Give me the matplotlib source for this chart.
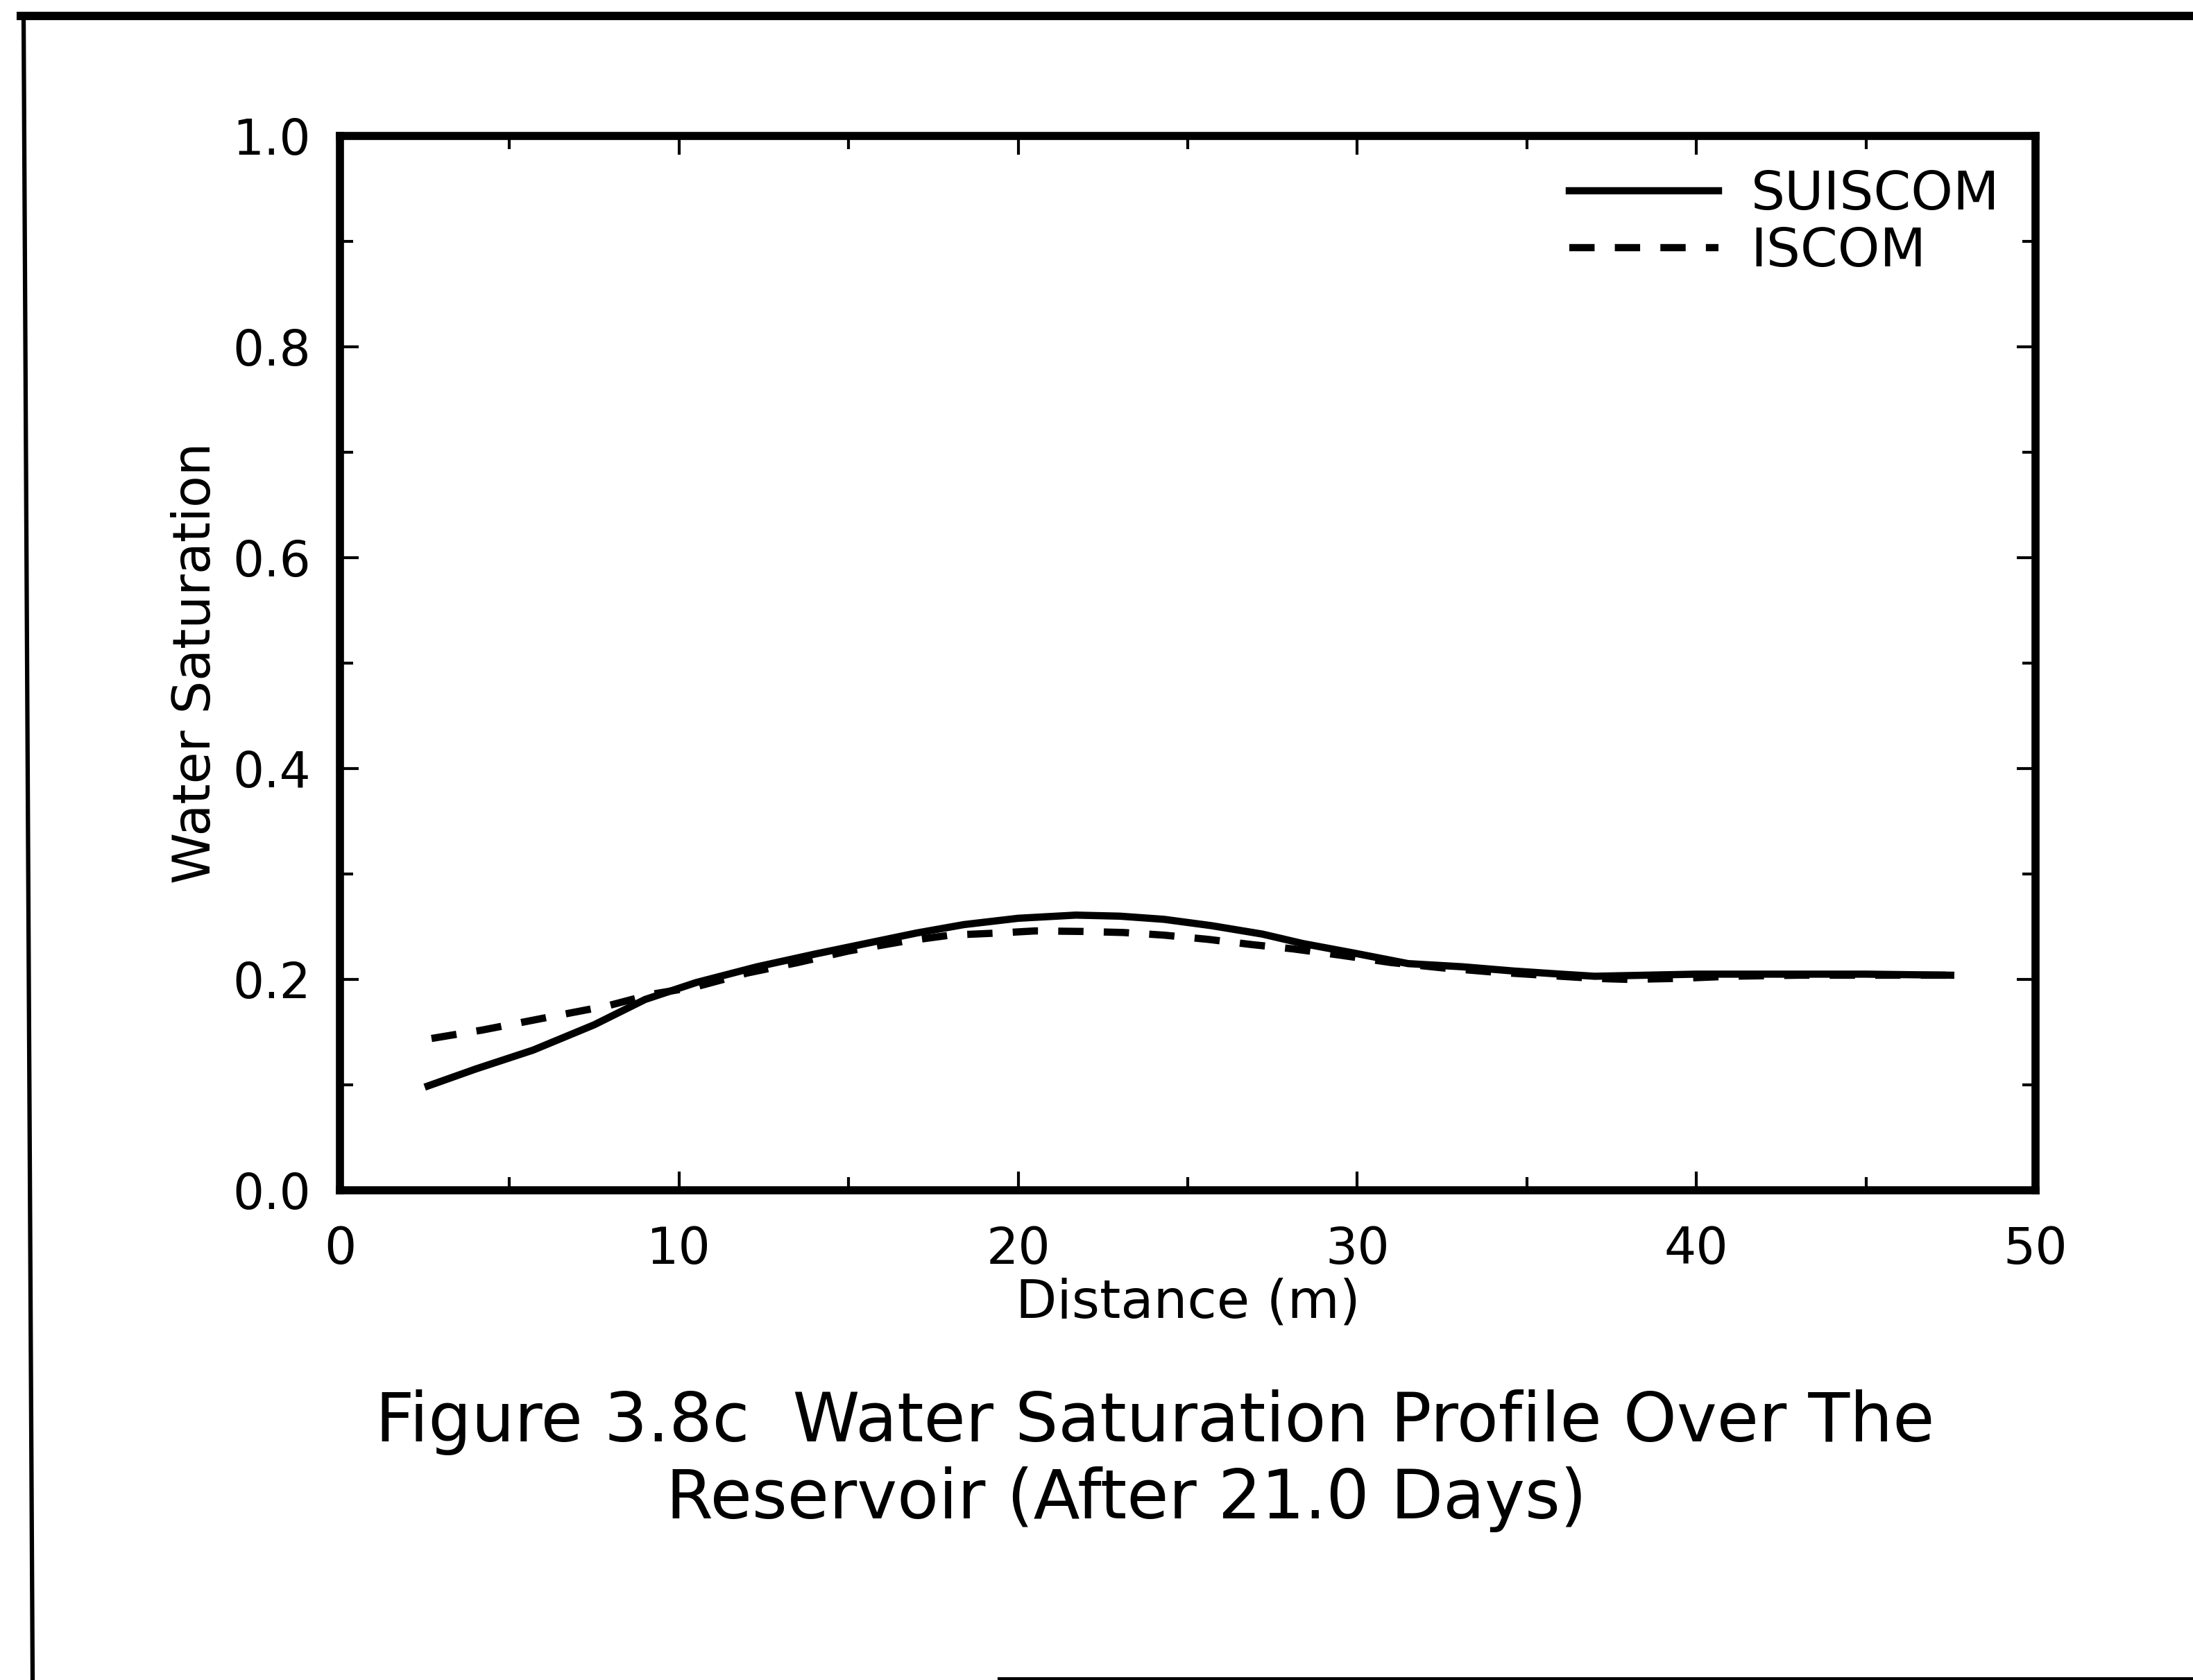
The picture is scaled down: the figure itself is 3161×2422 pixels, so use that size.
import matplotlib
matplotlib.use("Agg")
import matplotlib.pyplot as plt
from matplotlib.lines import Line2D
from matplotlib.ticker import MultipleLocator, FormatStrFormatter

# SUISCOM profile (solid)
suiscom_x = [2.6, 4.0, 5.7, 7.5, 9.0, 10.5, 12.3, 14.0, 15.5, 17.0, 18.4, 20.0,
             21.7, 23.0, 24.3, 25.7, 27.2, 28.4, 29.9, 31.5, 33.1, 34.6, 36.0,
             37.0, 38.5, 40.0, 42.5, 45.0, 47.5]
suiscom_y = [0.099, 0.115, 0.133, 0.157, 0.181, 0.197, 0.212, 0.224, 0.234,
             0.244, 0.252, 0.258, 0.261, 0.260, 0.257, 0.251, 0.243, 0.234,
             0.225, 0.215, 0.212, 0.208, 0.205, 0.203, 0.204, 0.205, 0.205,
             0.205, 0.204]

# ISCOM profile (dashed)
iscom_x = [2.7, 4.2, 6.6, 7.9, 9.2, 10.5, 12.0, 13.5, 15.0, 16.6, 18.0, 19.4,
           20.5, 21.9, 23.1, 24.3, 25.6, 26.9, 28.1, 29.5, 31.0, 32.5, 34.0,
           35.5, 37.0, 38.0, 39.5, 41.0, 43.0, 45.0, 47.5]
iscom_y = [0.144, 0.152, 0.167, 0.175, 0.186, 0.193, 0.206, 0.216, 0.227,
           0.236, 0.242, 0.244, 0.246, 0.2455, 0.2445, 0.242, 0.238, 0.233,
           0.229, 0.223, 0.216, 0.211, 0.207, 0.204, 0.201, 0.200, 0.201,
           0.203, 0.204, 0.204, 0.204]

labels = ["SUISCOM", "ISCOM"]
x_label = "Distance (m)"
y_label = "Water Saturation"
caption_1 = "Figure 3.8c  Water Saturation Profile Over The"
caption_2 = "Reservoir (After 21.0 Days)"

W, H = 3161, 2422
fig = plt.figure(figsize=(W / 300, H / 300), dpi=300)
ax = fig.add_axes([490 / W, 1 - 1716 / H, (2934 - 490) / W, (1716 - 196) / H])

ax.plot(suiscom_x, suiscom_y, color="black", lw=2.5, label=labels[0])
ax.plot(iscom_x, iscom_y, color="black", lw=2.5, dashes=(3.5, 2.8),
        label=labels[1])

ax.set_xlim(0, 50)
ax.set_ylim(0, 1.0)
ax.xaxis.set_major_locator(MultipleLocator(10))
ax.xaxis.set_minor_locator(MultipleLocator(5))
ax.yaxis.set_major_locator(MultipleLocator(0.2))
ax.yaxis.set_minor_locator(MultipleLocator(0.1))
ax.yaxis.set_major_formatter(FormatStrFormatter("%.1f"))

for s in ax.spines.values():
    s.set_linewidth(2.8)
ax.tick_params(which="both", direction="in", top=True, right=True, width=1.0)
ax.tick_params(which="major", length=6.5)
ax.tick_params(which="minor", length=4.5)
ax.tick_params(axis="y", labelsize=17, pad=10)
ax.tick_params(axis="x", labelsize=17.5, pad=12)

ax.set_xlabel(x_label, fontsize=18.5, labelpad=1)
ax.set_ylabel(y_label, fontsize=18, labelpad=4)

ax.legend(loc="upper right", frameon=False, fontsize=18.5, handlelength=2.8,
          handletextpad=0.6, labelspacing=0.11, borderaxespad=0.4,
          bbox_to_anchor=(1.004, 1.009))

fig.text(1665 / W, 1 - 2050 / H, caption_1, ha="center", va="center",
         fontsize=23.5)
fig.text(1623 / W, 1 - 2161 / H, caption_2, ha="center", va="center",
         fontsize=23.5)

# scanned page border
fig.add_artist(Line2D([30 / W, 1.0], [1 - 23 / H, 1 - 23 / H], color="black",
                      lw=2.9, transform=fig.transFigure))
fig.add_artist(Line2D([34 / W, 47 / W], [1 - 23 / H, 0.0], color="black",
                      lw=1.5, transform=fig.transFigure))
fig.add_artist(Line2D([1440 / W, 1.0], [2 / H, 2 / H], color="black",
                      lw=1.0, transform=fig.transFigure))

fig.savefig("out.png", dpi=300, facecolor="white")
